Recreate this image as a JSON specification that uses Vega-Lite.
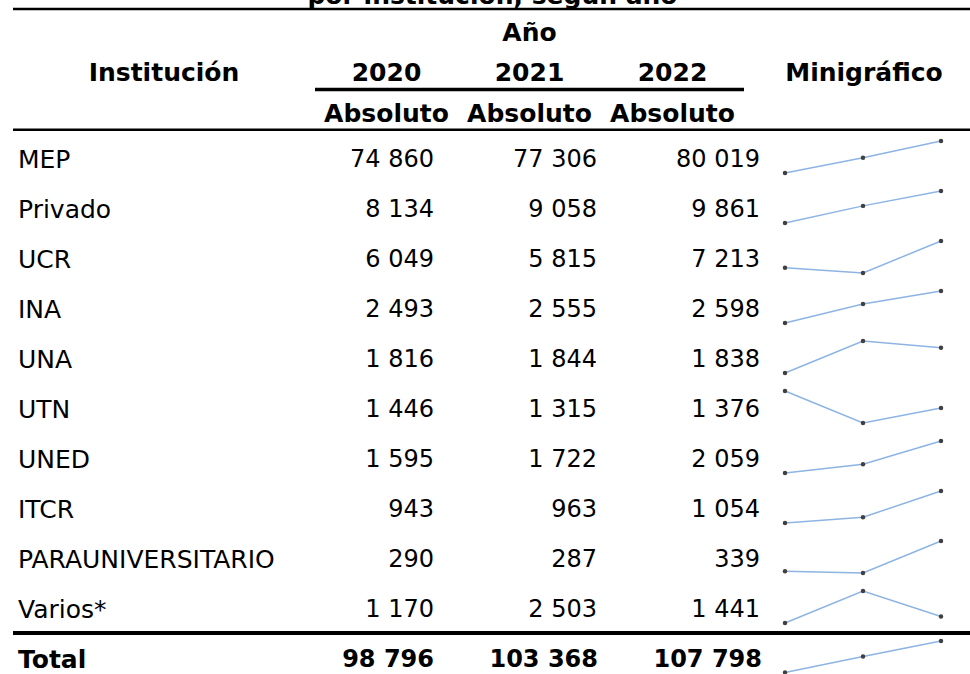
{
  "$schema": "https://vega.github.io/schema/vega-lite/v6.json",
  "padding": {"left": 11, "top": 0, "right": 0, "bottom": 0},
  "spacing": 0,
  "background": "white",
  "config": {
    "view": {"stroke": null},
    "font": "DejaVu Sans",
    "concat": {"spacing": 0},
    "facet": {"spacing": 0},
    "locale": {"number": {"decimal": ",", "thousands": " ", "grouping": [3], "currency": ["", ""]}}
  },
  "datasets": {
    "instituciones": [
      {"inst": "MEP", "2020": 74860, "2021": 77306, "2022": 80019},
      {"inst": "Privado", "2020": 8134, "2021": 9058, "2022": 9861},
      {"inst": "UCR", "2020": 6049, "2021": 5815, "2022": 7213},
      {"inst": "INA", "2020": 2493, "2021": 2555, "2022": 2598},
      {"inst": "UNA", "2020": 1816, "2021": 1844, "2022": 1838},
      {"inst": "UTN", "2020": 1446, "2021": 1315, "2022": 1376},
      {"inst": "UNED", "2020": 1595, "2021": 1722, "2022": 2059},
      {"inst": "ITCR", "2020": 943, "2021": 963, "2022": 1054},
      {"inst": "PARAUNIVERSITARIO", "2020": 290, "2021": 287, "2022": 339},
      {"inst": "Varios*", "2020": 1170, "2021": 2503, "2022": 1441}
    ],
    "total": [
      {"inst": "Total", "2020": 98796, "2021": 103368, "2022": 107798}
    ],
    "cabeceras": [
      {"texto": "Año", "col": "2021", "fila": "anio"},
      {"texto": "2020", "col": "2020", "fila": "cabecera"},
      {"texto": "2021", "col": "2021", "fila": "cabecera"},
      {"texto": "2022", "col": "2022", "fila": "cabecera"},
      {"texto": "Absoluto", "col": "2020", "fila": "medida"},
      {"texto": "Absoluto", "col": "2021", "fila": "medida"},
      {"texto": "Absoluto", "col": "2022", "fila": "medida"}
    ],
    "laterales": [
      {"texto": "Institución", "col": "Institución", "fila": "cabecera"},
      {"texto": "Minigráfico", "col": "Minigráfico", "fila": "cabecera"}
    ],
    "titulo": [
      {"texto": "por institución, según año", "fila": "titulo"}
    ],
    "bordes": [
      {"linea": "linea_superior"},
      {"linea": "linea_cabecera"}
    ],
    "borde_anio": [
      {"linea": "linea_anio"}
    ]
  },
  "vconcat": [
    {
      "width": 959,
      "height": 131,
      "resolve": {"scale": {"x": "independent"}},
      "layer": [
        {
          "data": {"name": "titulo"},
          "mark": {"type": "text", "align": "center", "baseline": "middle", "fontSize": 25, "fontWeight": "bold", "color": "#000000", "dy": 7, "clip": true},
          "encoding": {
            "y": {"field": "fila", "type": "nominal", "axis": null, "scale": {"type": "point", "domain": ["titulo", "linea_superior", "anio", "sep", "cabecera", "linea_anio", "medida", "linea_cabecera"], "range": [-11, 129.75], "padding": 0}},
            "text": {"field": "texto"}
          }
        },
        {
          "data": {"name": "bordes"},
          "mark": {"type": "rule", "color": "#000000", "strokeWidth": 2.5},
          "encoding": {
            "y": {"field": "linea", "type": "nominal", "axis": null, "scale": {"type": "point", "domain": ["titulo", "linea_superior", "anio", "sep", "cabecera", "linea_anio", "medida", "linea_cabecera"], "range": [-11, 129.75], "padding": 0}}
          }
        },
        {
          "data": {"name": "borde_anio"},
          "mark": {"type": "rule", "color": "#000000", "strokeWidth": 3.5},
          "encoding": {
            "y": {"field": "linea", "type": "nominal", "axis": null, "scale": {"type": "point", "domain": ["titulo", "linea_superior", "anio", "sep", "cabecera", "linea_anio", "medida", "linea_cabecera"], "range": [-11, 129.75], "padding": 0}},
            "x": {"datum": "2020", "type": "nominal", "bandPosition": 0, "axis": null, "scale": {"type": "band", "domain": ["2020", "2021", "2022"], "range": [302, 731], "paddingInner": 0, "paddingOuter": 0}},
            "x2": {"datum": "2022", "bandPosition": 1}
          }
        },
        {
          "data": {"name": "cabeceras"},
          "mark": {"type": "text", "align": "center", "baseline": "middle", "fontSize": 25, "fontWeight": "bold", "color": "#000000", "dy": 4},
          "encoding": {
            "x": {"field": "col", "type": "nominal", "axis": null, "scale": {"type": "band", "domain": ["2020", "2021", "2022"], "range": [302, 731], "paddingInner": 0, "paddingOuter": 0}},
            "y": {"field": "fila", "type": "nominal", "axis": null, "scale": {"type": "point", "domain": ["titulo", "linea_superior", "anio", "sep", "cabecera", "linea_anio", "medida", "linea_cabecera"], "range": [-11, 129.75], "padding": 0}},
            "text": {"field": "texto"}
          }
        },
        {
          "data": {"name": "laterales"},
          "mark": {"type": "text", "align": "center", "baseline": "middle", "fontSize": 25, "fontWeight": "bold", "color": "#000000", "dy": 4},
          "encoding": {
            "x": {"field": "col", "type": "nominal", "axis": null, "scale": {"type": "point", "domain": ["Institución", "Minigráfico"], "range": [151, 851], "padding": 0}},
            "y": {"field": "fila", "type": "nominal", "axis": null, "scale": {"type": "point", "domain": ["titulo", "linea_superior", "anio", "sep", "cabecera", "linea_anio", "medida", "linea_cabecera"], "range": [-11, 129.75], "padding": 0}},
            "text": {"field": "texto"}
          }
        }
      ]
    },
    {
      "data": {"name": "instituciones"},
      "bounds": "flush",
      "spacing": 0,
      "facet": {
        "row": {"field": "inst", "type": "nominal", "header": null,
          "sort": ["MEP", "Privado", "UCR", "INA", "UNA", "UTN", "UNED", "ITCR", "PARAUNIVERSITARIO", "Varios*"]}
      },
      "resolve": {"scale": {"y": "independent"}},
      "spec": {
        "width": 959,
        "height": 49.9,
        "resolve": {"scale": {"x": "independent"}},
        "layer": [
          {
            "mark": {"type": "text", "align": "left", "baseline": "middle", "fontSize": 25, "color": "#000000", "dy": 4},
            "encoding": {
              "x": {"datum": "Institución", "type": "nominal", "axis": null, "scale": {"type": "point", "domain": ["Institución"], "range": [5, 5], "padding": 0}},
              "text": {"field": "inst"}
            }
          },
          {
            "transform": [{"fold": ["2020", "2021", "2022"], "as": ["anio", "valor"]}],
            "mark": {"type": "text", "align": "right", "baseline": "middle", "fontSize": 24, "color": "#000000", "dy": 4},
            "encoding": {
              "x": {"field": "anio", "type": "nominal", "axis": null, "scale": {"type": "point", "domain": ["2020", "2021", "2022"], "range": [421, 747], "padding": 0}},
              "text": {"field": "valor", "type": "quantitative", "format": ",d"}
            }
          },
          {
            "transform": [{"fold": ["2020", "2021", "2022"], "as": ["anio", "valor"]}],
            "mark": {"type": "line", "color": "#8db4e2", "strokeWidth": 1.5},
            "encoding": {
              "x": {"field": "anio", "type": "nominal", "axis": null, "scale": {"type": "point", "domain": ["2020", "2021", "2022"], "range": [772, 928], "padding": 0}},
              "y": {"field": "valor", "type": "quantitative", "axis": null, "scale": {"zero": false, "nice": false, "range": [42, 10]}}
            }
          },
          {
            "transform": [{"fold": ["2020", "2021", "2022"], "as": ["anio", "valor"]}],
            "mark": {"type": "point", "shape": "circle", "filled": true, "color": "#404040", "size": 20, "opacity": 1},
            "encoding": {
              "x": {"field": "anio", "type": "nominal", "axis": null, "scale": {"type": "point", "domain": ["2020", "2021", "2022"], "range": [772, 928], "padding": 0}},
              "y": {"field": "valor", "type": "quantitative", "axis": null, "scale": {"zero": false, "nice": false, "range": [42, 10]}}
            }
          }
        ]
      }
    },
    {
      "data": {"name": "total"},
      "width": 959,
      "height": 44,
      "resolve": {"scale": {"x": "independent", "y": "independent"}},
      "layer": [
        {
          "data": {"values": [{"linea": "linea_total"}]},
          "mark": {"type": "rule", "color": "#000000", "strokeWidth": 4},
          "encoding": {
            "y": {"field": "linea", "type": "nominal", "axis": null, "scale": {"type": "point", "domain": ["linea_total", "fila_total"], "range": [2, 22], "padding": 0}}
          }
        },
        {
          "mark": {"type": "text", "align": "left", "baseline": "middle", "fontSize": 25, "fontWeight": "bold", "color": "#000000", "dy": 7},
          "encoding": {
            "x": {"datum": "Institución", "type": "nominal", "axis": null, "scale": {"type": "point", "domain": ["Institución"], "range": [5, 5], "padding": 0}},
            "text": {"field": "inst"}
          }
        },
        {
          "transform": [{"fold": ["2020", "2021", "2022"], "as": ["anio", "valor"]}],
          "mark": {"type": "text", "align": "right", "baseline": "middle", "fontSize": 24, "fontWeight": "bold", "color": "#000000", "dy": 7},
          "encoding": {
            "x": {"field": "anio", "type": "nominal", "axis": null, "scale": {"type": "point", "domain": ["2020", "2021", "2022"], "range": [421, 749], "padding": 0}},
            "text": {"field": "valor", "type": "quantitative", "format": ",d"}
          }
        },
        {
          "transform": [{"fold": ["2020", "2021", "2022"], "as": ["anio", "valor"]}],
          "mark": {"type": "line", "color": "#8db4e2", "strokeWidth": 1.5},
          "encoding": {
            "x": {"field": "anio", "type": "nominal", "axis": null, "scale": {"type": "point", "domain": ["2020", "2021", "2022"], "range": [772, 928], "padding": 0}},
            "y": {"field": "valor", "type": "quantitative", "axis": null, "scale": {"zero": false, "nice": false, "range": [41.5, 10]}}
          }
        },
        {
          "transform": [{"fold": ["2020", "2021", "2022"], "as": ["anio", "valor"]}],
          "mark": {"type": "point", "shape": "circle", "filled": true, "color": "#404040", "size": 20, "opacity": 1},
          "encoding": {
            "x": {"field": "anio", "type": "nominal", "axis": null, "scale": {"type": "point", "domain": ["2020", "2021", "2022"], "range": [772, 928], "padding": 0}},
            "y": {"field": "valor", "type": "quantitative", "axis": null, "scale": {"zero": false, "nice": false, "range": [41.5, 10]}}
          }
        }
      ]
    }
  ]
}
